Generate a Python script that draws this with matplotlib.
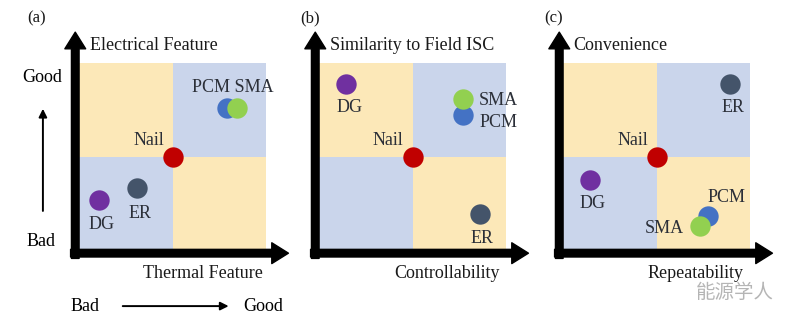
import matplotlib.pyplot as plt
from matplotlib.patches import Rectangle

# ====== DATA ======
# each panel is a 0-10 square split into quadrants at 5
panel_tags = ["(a)", "(b)", "(c)"]
y_titles = ["Electrical Feature", "Similarity to Field ISC", "Convenience"]
x_titles = ["Thermal Feature", "Controllability", "Repeatability"]

methods = ["Nail", "DG", "ER", "PCM", "SMA"]
colors = {"Nail": "#C00000", "DG": "#7030A0", "ER": "#44546A",
          "PCM": "#4472C4", "SMA": "#92D050"}

# (x, y) scores per method, one dict per panel
scores_a = {"Nail": (5.0, 5.0), "DG": (1.05, 2.7), "ER": (3.1, 3.3),
            "PCM": (7.9, 7.6), "SMA": (8.45, 7.6)}
scores_b = {"Nail": (5.0, 5.0), "DG": (1.45, 8.9), "ER": (8.6, 1.95),
            "PCM": (7.7, 7.2), "SMA": (7.7, 8.1)}
scores_c = {"Nail": (5.0, 5.0), "DG": (1.45, 3.75), "ER": (8.95, 8.9),
            "PCM": (7.75, 1.8), "SMA": (7.3, 1.3)}
scores = [scores_a, scores_b, scores_c]

# label text and anchor for each panel
labels_a = [("PCM SMA", 8.24, 8.7, "center"), ("Nail", 3.74, 5.86, "center"),
            ("DG", 1.23, 1.34, "center"), ("ER", 3.26, 1.94, "center")]
labels_b = [("DG", 1.66, 7.63, "center"), ("SMA", 8.56, 8.0, "left"),
            ("PCM", 8.56, 6.83, "left"), ("Nail", 3.69, 5.86, "center"),
            ("ER", 8.72, 0.59, "center")]
labels_c = [("ER", 9.09, 7.63, "center"), ("Nail", 3.74, 5.86, "center"),
            ("DG", 1.6, 2.47, "center"), ("PCM", 8.77, 2.8, "center"),
            ("SMA", 5.4, 1.13, "center")]
point_labels = [labels_a, labels_b, labels_c]

# draw order: PCM before SMA so green overlaps blue
order = ["PCM", "SMA", "DG", "ER", "Nail"]

YELLOW = "#FCE8B8"
BLUE = "#CAD5EB"
FONT = "Liberation Serif"
FS = 13

W, H = 800, 323
fig = plt.figure(figsize=(W / 100, H / 100), dpi=100)
fig.patch.set_facecolor("white")

lefts = [79, 319, 563]
size = 187
top = 63

axes = []
for i in range(3):
    ax = fig.add_axes([lefts[i] / W, (H - top - size) / H, size / W, size / H])
    ax.set_xlim(0, 10)
    ax.set_ylim(0, 10)
    ax.axis("off")
    axes.append(ax)

    # quadrants
    ax.add_patch(Rectangle((0, 5), 5, 5, color=YELLOW, lw=0))
    ax.add_patch(Rectangle((5, 5), 5, 5, color=BLUE, lw=0))
    ax.add_patch(Rectangle((0, 0), 5, 5, color=BLUE, lw=0))
    ax.add_patch(Rectangle((5, 0), 5, 5, color=YELLOW, lw=0))

    # thick axis arrows
    ax.annotate("", xy=(-0.2, 11.65), xytext=(-0.2, -0.45),
                arrowprops=dict(width=5.5, headwidth=15, headlength=12,
                                color="black", shrink=0),
                annotation_clip=False)
    ax.annotate("", xy=(11.2, -0.17), xytext=(-0.45, -0.17),
                arrowprops=dict(width=5.5, headwidth=15, headlength=12,
                                color="black", shrink=0),
                annotation_clip=False)

    for m in order:
        x, y = scores[i][m]
        ax.scatter(x, y, s=215, color=colors[m], zorder=5, clip_on=False,
                   linewidths=0)

    for txt, x, y, ha in point_labels[i]:
        ax.text(x, y, txt, ha=ha, va="center", fontsize=FS, family=FONT,
                color="#2b2f38", zorder=6)

    ax.text(0.57, 10.95, y_titles[i], ha="left", va="center", fontsize=FS,
            family=FONT, color="#1a1a1a")

x_title_pos = [6.63, 6.84, 7.11]
tag_pos = [-2.25, -0.48, -0.53]
for i, ax in enumerate(axes):
    ax.text(x_title_pos[i], -1.25, x_titles[i], ha="center", va="center",
            fontsize=FS, family=FONT, color="#1a1a1a")
    ax.text(tag_pos[i], 12.4, panel_tags[i], ha="center", va="center",
            fontsize=FS - 1, family=FONT, color="#1a1a1a")

# Good / Bad guide arrows beside panel (a)
ax = axes[0]
ax.text(-1.98, 9.25, "Good", ha="center", va="center", fontsize=FS, family=FONT)
ax.text(-2.03, 0.48, "Bad", ha="center", va="center", fontsize=FS, family=FONT)
ax.annotate("", xy=(-1.93, 7.7), xytext=(-1.93, 1.94),
            arrowprops=dict(arrowstyle="-|>", lw=1.4, color="black",
                            mutation_scale=12),
            annotation_clip=False)
ax.text(0.32, -3.0, "Bad", ha="center", va="center", fontsize=FS, family=FONT)
ax.annotate("", xy=(8.15, -3.0), xytext=(2.19, -3.0),
            arrowprops=dict(arrowstyle="-|>", lw=1.4, color="black",
                            mutation_scale=12),
            annotation_clip=False)
ax.text(8.77, -3.0, "Good", ha="left", va="center", fontsize=FS, family=FONT)

# watermark
fig.text(735 / W, 1 - 292 / H, "能源学人", ha="center", va="center",
         fontsize=14, color="#b5b5b5",
         family=["Noto Sans CJK SC", "DejaVu Sans"])

fig.savefig("out.png", dpi=100)
